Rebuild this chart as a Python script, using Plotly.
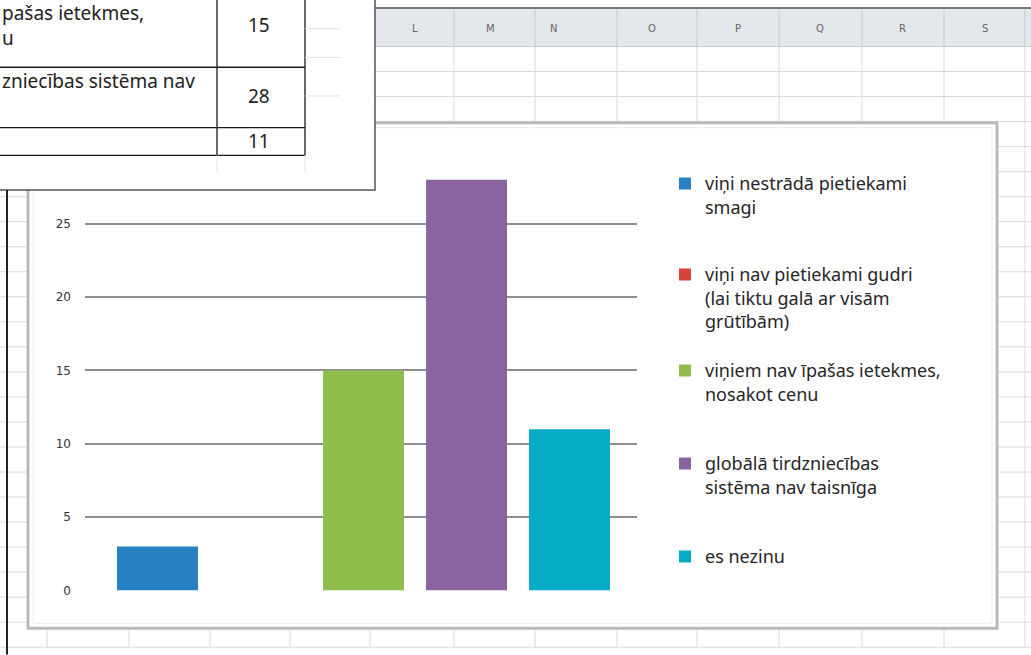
import plotly.graph_objects as go

# ---------------- data ----------------
series_names = [
    "viņi nestrādā pietiekami<br>smagi",
    "viņi nav pietiekami gudri<br>(lai tiktu galā ar visām<br>grūtībām)",
    "viņiem nav īpašas ietekmes,<br>nosakot cenu",
    "globālā tirdzniecības<br>sistēma nav taisnīga",
    "es nezinu",
]
series_keys = ["A", "B", "C", "D", "E"]
series_values = [3, 0, 15, 28, 11]
series_colors = ["#2680c2", "#d9423f", "#8fbd4c", "#8c63a1", "#06abc6"]
y_ticks = [0, 5, 10, 15, 20, 25, 30]
y_ticktext = ["0", "5", "10", "15", "20", "25", ""]
column_letters = ["L", "M", "N", "O", "P", "Q", "R", "S"]
table_texts = ["pašas ietekmes,", "u", "zniecības sistēma nav"]
table_numbers = ["15", "28", "11"]

# ---------------- layout helpers ----------------
W, H = 1031, 655


def px(x):
    return x / W


def py(y):
    return 1 - y / H


fig = go.Figure()

legend_tops = [167, 259, 356, 450, 544]
for i, (k, name, v, c) in enumerate(zip(series_keys, series_names, series_values, series_colors)):
    lg = "legend" if i == 0 else f"legend{i+1}"
    fig.add_trace(go.Bar(
        x=[k], y=[v], name=name, marker_color=c, marker_line_width=0,
        legend=lg, hoverinfo="name+y",
    ))

shapes = []
col_x = [47, 129, 210, 290, 370, 454, 535, 617, 697, 779, 862, 944, 1025]
grid_c = "#dadada"
for cx in col_x:
    shapes.append(dict(type="line", xref="paper", yref="paper", x0=px(cx), x1=px(cx),
                       y0=py(47), y1=py(H), line=dict(color=grid_c, width=1), layer="below"))
ry = 47.0
while ry < H:
    shapes.append(dict(type="line", xref="paper", yref="paper", x0=0, x1=1,
                       y0=py(ry), y1=py(ry), line=dict(color=grid_c, width=1), layer="below"))
    ry += 25.3
shapes.append(dict(type="rect", xref="paper", yref="paper", x0=px(375), x1=1.01,
                   y0=py(47), y1=py(9), fillcolor="#e4e7ec", line=dict(width=0), layer="below"))
shapes.append(dict(type="line", xref="paper", yref="paper", x0=px(375), x1=1.01,
                   y0=py(8), y1=py(8), line=dict(color="#7a7a7a", width=2), layer="below"))
shapes.append(dict(type="line", xref="paper", yref="paper", x0=px(375), x1=1.01,
                   y0=py(47), y1=py(47), line=dict(color="#c4c8ce", width=1), layer="below"))
for cx in col_x:
    if cx > 375:
        shapes.append(dict(type="line", xref="paper", yref="paper", x0=px(cx), x1=px(cx),
                           y0=py(10), y1=py(47), line=dict(color="#c4c8ce", width=1), layer="below"))
# chart frame
shapes.append(dict(type="rect", xref="paper", yref="paper", x0=px(28), x1=px(997),
                   y0=py(635), y1=py(124), fillcolor="white",
                   line=dict(color="#b9b9b9", width=3), layer="below"))
shapes.append(dict(type="rect", xref="paper", yref="paper", x0=px(33), x1=px(992),
                   y0=py(630), y1=py(129), fillcolor="rgba(0,0,0,0)",
                   line=dict(color="#ececec", width=1), layer="below"))
# pasted table picture
shapes.append(dict(type="rect", xref="paper", yref="paper", x0=-0.01, x1=px(375),
                   y0=py(192), y1=1.01, fillcolor="white",
                   line=dict(color="#555555", width=1.5), layer="above"))
tl = dict(color="#1a1a1a", width=1.3)
for vx in (217, 305):
    shapes.append(dict(type="line", xref="paper", yref="paper", x0=px(vx), x1=px(vx),
                       y0=py(157), y1=1.01, line=tl, layer="above"))
for hy in (68, 129, 157):
    shapes.append(dict(type="line", xref="paper", yref="paper", x0=-0.01, x1=px(305),
                       y0=py(hy), y1=py(hy), line=tl, layer="above"))
faint = dict(color="#e2e2e2", width=1)
for hy in (29, 58, 97):
    shapes.append(dict(type="line", xref="paper", yref="paper", x0=px(305), x1=px(340),
                       y0=py(hy), y1=py(hy), line=faint, layer="above"))
shapes.append(dict(type="line", xref="paper", yref="paper", x0=px(217), x1=px(217),
                   y0=py(175), y1=py(157), line=faint, layer="above"))
shapes.append(dict(type="line", xref="paper", yref="paper", x0=px(305), x1=px(305),
                   y0=py(175), y1=py(157), line=faint, layer="above"))
shapes.append(dict(type="line", xref="paper", yref="paper", x0=px(7), x1=px(7),
                   y0=py(192), y1=-0.01, line=dict(color="#222222", width=2), layer="above"))

annotations = []
letter_x = [415, 490, 553, 652, 738, 820, 902, 985]
for L, lx in zip(column_letters, letter_x):
    annotations.append(dict(text=L, x=px(lx), y=py(29), xref="paper", yref="paper",
                            xanchor="center", yanchor="middle",
                            showarrow=False, font=dict(family="DejaVu Sans", size=10, color="#666")))
tfont = dict(family="Noto Sans", size=19, color="#222222")
for t, ty in zip(table_texts, (13, 38, 82)):
    annotations.append(dict(text=t, x=0, y=py(ty), xref="paper", yref="paper",
                            xanchor="left", yanchor="middle", showarrow=False, font=tfont))
for n, ny in zip(table_numbers, (25, 97, 143)):
    annotations.append(dict(text=n, x=px(259), y=py(ny), xref="paper", yref="paper",
                            xanchor="center", yanchor="middle", showarrow=False, font=tfont))

legend_font = dict(family="Noto Sans", size=18, color="#262626")
legends = {}
for i, top in enumerate(legend_tops):
    key = "legend" if i == 0 else f"legend{i+1}"
    legends[key] = dict(x=px(665), y=py(top), xanchor="left", yanchor="top",
                        bgcolor="rgba(0,0,0,0)", font=legend_font, valign="top",
                        itemclick=False, itemdoubleclick=False)

fig.update_layout(
    width=W, height=H,
    margin=dict(l=0, r=0, t=0, b=0),
    paper_bgcolor="white", plot_bgcolor="white",
    barmode="overlay", bargap=0.214,
    showlegend=True,
    xaxis=dict(domain=[px(85), px(637)], type="category", categoryarray=series_keys,
               range=[-0.704, 4.655], showticklabels=False, showgrid=False,
               zeroline=False, showline=False, fixedrange=True),
    yaxis=dict(domain=[py(597), py(152)], range=[0, 30], tickvals=y_ticks, ticktext=y_ticktext,
               showgrid=True, gridcolor="#8e8e8e", gridwidth=1.5, zeroline=False, showline=False,
               ticklabelstandoff=13, tickfont=dict(family="DejaVu Sans", size=12, color="#333333"),
               fixedrange=True),
    shapes=shapes,
    annotations=annotations,
    **legends,
)

post = """
document.documentElement.style.margin='0';
document.body.style.margin='0';
document.body.style.overflow='hidden';
"""
fig.write_html("out.html", config={"displayModeBar": False}, post_script=post)
